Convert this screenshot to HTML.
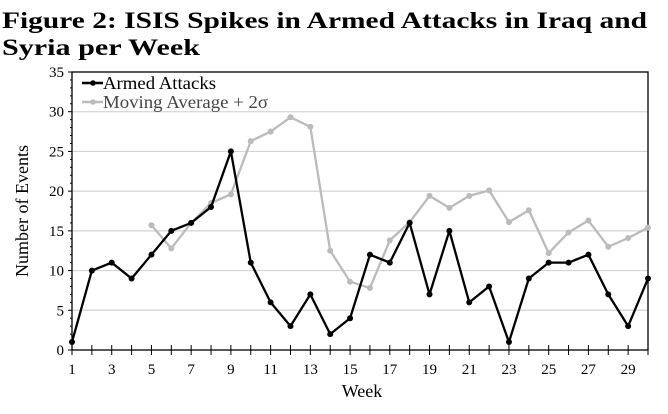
<!DOCTYPE html>
<html><head><meta charset="utf-8">
<style>
body{margin:0;background:#fff;width:668px;height:414px;overflow:hidden;}
svg{display:block;font-family:"Liberation Serif",serif;}
</style></head>
<body>
<svg id="chart" width="668" height="414" xmlns="http://www.w3.org/2000/svg">
<text x="2" y="28" font-size="23" font-weight="bold" textLength="645" lengthAdjust="spacingAndGlyphs">Figure 2: ISIS Spikes in Armed Attacks in Iraq and</text>
<text x="2" y="55" font-size="23" font-weight="bold" textLength="198" lengthAdjust="spacingAndGlyphs">Syria per Week</text>
<g id="grid"></g>
<g id="axes"></g>
<g id="series"></g>
<text x="362" y="397" font-size="18" text-anchor="middle">Week</text>
<text transform="translate(28,211) rotate(-90)" font-size="18" text-anchor="middle">Number of Events</text>
<g>
<line x1="82" y1="83" x2="103" y2="83" stroke="#000" stroke-width="2.5"/><circle cx="93" cy="83" r="2.8" fill="#000"/>
<text x="103" y="89" font-size="18" textLength="113" lengthAdjust="spacingAndGlyphs">Armed Attacks</text>
<line x1="82" y1="102" x2="103" y2="102" stroke="#bbb" stroke-width="2.5"/><circle cx="93" cy="102" r="2.8" fill="#bbb"/>
<text x="103" y="108" font-size="18" fill="#444" textLength="165" lengthAdjust="spacingAndGlyphs">Moving Average + 2σ</text>
</g>
</svg>
<script>
const weeks=[1,2,3,4,5,6,7,8,9,10,11,12,13,14,15,16,17,18,19,20,21,22,23,24,25,26,27,28,29,30];
const armedAttacks=[1,10,11,9,12,15,16,18,25,11,6,3,7,2,4,12,11,16,7,15,6,8,1,9,11,11,12,7,3,9];
const maWeeks=[5,6,7,8,9,10,11,12,13,14,15,16,17,18,19,20,21,22,23,24,25,26,27,28,29,30];
const movingAvg=[15.7,12.8,16,18.5,19.6,26.3,27.5,29.3,28.1,12.5,8.6,7.8,13.8,16.1,19.4,17.9,19.4,20.1,16.1,17.6,12.2,14.8,16.3,13,14.1,15.4];
const yTicks=[0,5,10,15,20,25,30,35];
const xTickLabels=[1,3,5,7,9,11,13,15,17,19,21,23,25,27,29];
const L=72,R=648,T=72,B=350;
const xs=w=>L+(w-1)*(R-L)/29;
const ys=v=>B-v*(B-T)/35;
const NS='http://www.w3.org/2000/svg';
function mk(t,a,p){const e=document.createElementNS(NS,t);for(const k in a)e.setAttribute(k,a[k]);p.appendChild(e);return e;}
const grid=document.getElementById('grid'),axes=document.getElementById('axes'),ser=document.getElementById('series');
yTicks.forEach(v=>{
 if(v>0&&v<35){const g=mk('line',{x1:L,x2:R,y1:ys(v),y2:ys(v),stroke:'#d4d4d4','stroke-width':1.2},grid);
 
 }
 const t=mk('text',{x:L-8,y:ys(v)+5,'font-size':15,'text-anchor':'end'},axes);t.textContent=v;
 
 
 mk('line',{x1:L-4,x2:L,y1:ys(v),y2:ys(v),stroke:'#000'},axes);
});
for(let v=1;v<35;v++){if(v%5)mk('line',{x1:L-2,x2:L,y1:ys(v),y2:ys(v),stroke:'#000'},axes);}
const frame=mk('rect',{x:L,y:T,width:R-L,height:B-T,fill:'none',stroke:'#000','stroke-width':1.3},axes);


weeks.forEach(w=>mk('line',{x1:xs(w),x2:xs(w),y1:B-5,y2:B+5,stroke:'#000'},axes));
xTickLabels.forEach(w=>{const t=mk('text',{x:xs(w),y:B+24,'font-size':15,'text-anchor':'middle'},axes);t.textContent=w;
 
 });
function line(xv,yv,col,name){
 const p=mk('polyline',{points:xv.map((w,i)=>xs(w)+','+ys(yv[i])).join(' '),fill:'none',stroke:col,'stroke-width':2.3,'stroke-linejoin':'round'},ser);
 
 
 xv.forEach((w,i)=>{const c=mk('circle',{cx:xs(w),cy:ys(yv[i]),r:3,fill:col},ser);
 
 });
}
line(maWeeks,movingAvg,'#bbbbbb','moving-average');
line(weeks,armedAttacks,'#000000','armed-attacks');
</script>
</body></html>
